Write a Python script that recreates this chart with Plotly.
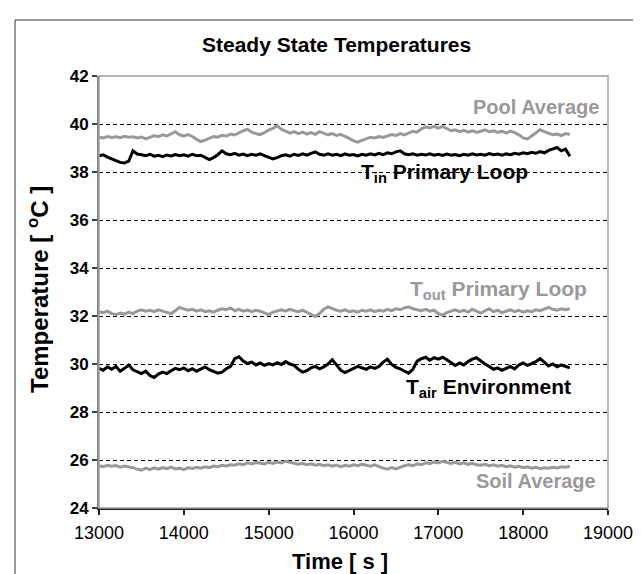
import plotly.graph_objects as go

# sample times [s]
time_s = list(range(13000, 18551, 50))

pool_avg = [
    39.45, 39.42, 39.48, 39.44, 39.47, 39.43, 39.49, 39.45, 39.47, 39.42,
    39.46, 39.38, 39.44, 39.52, 39.47, 39.55, 39.50, 39.60, 39.68, 39.55,
    39.50, 39.56, 39.48, 39.36, 39.27, 39.33, 39.42, 39.48, 39.45, 39.53,
    39.50, 39.58, 39.54, 39.64, 39.72, 39.78, 39.66, 39.60, 39.56, 39.64,
    39.75, 39.82, 39.93, 39.78, 39.70, 39.62, 39.68, 39.60, 39.66, 39.58,
    39.64, 39.57, 39.68, 39.60, 39.55, 39.60, 39.52, 39.57, 39.50, 39.40,
    39.30, 39.24, 39.32, 39.40, 39.45, 39.42, 39.48, 39.44, 39.50, 39.56,
    39.52, 39.60, 39.55, 39.64, 39.70, 39.66, 39.80, 39.88, 39.84, 39.90,
    39.83, 39.90, 39.80, 39.72, 39.76, 39.68, 39.74, 39.66, 39.72, 39.65,
    39.70, 39.76, 39.68, 39.72, 39.65, 39.70, 39.62, 39.70, 39.64, 39.55,
    39.42, 39.38, 39.50, 39.62, 39.76, 39.68, 39.60, 39.55, 39.58, 39.52,
    39.60, 39.56,
]

t_in = [
    38.68, 38.72, 38.62, 38.55, 38.48, 38.40, 38.38, 38.45, 38.88, 38.75,
    38.72, 38.68, 38.74, 38.66, 38.70, 38.64, 38.71, 38.67, 38.73, 38.68,
    38.72, 38.66, 38.74, 38.68, 38.70, 38.62, 38.52, 38.60, 38.72, 38.88,
    38.76, 38.72, 38.78, 38.70, 38.75, 38.68, 38.74, 38.70, 38.76, 38.68,
    38.62, 38.55, 38.60, 38.68, 38.72, 38.66, 38.74, 38.69, 38.76, 38.70,
    38.78, 38.84, 38.74, 38.70, 38.76, 38.70, 38.74, 38.68, 38.76, 38.70,
    38.73, 38.67, 38.74, 38.70, 38.76, 38.71, 38.78, 38.72, 38.80, 38.76,
    38.84, 38.88, 38.76, 38.72, 38.76, 38.70, 38.74, 38.71, 38.76, 38.70,
    38.74, 38.69, 38.75, 38.70, 38.73, 38.68, 38.74, 38.70, 38.76, 38.71,
    38.74, 38.70, 38.77, 38.72, 38.75, 38.70, 38.76, 38.72, 38.78, 38.74,
    38.80, 38.76, 38.82, 38.78, 38.85, 38.80, 38.90, 38.96, 39.02, 38.88,
    38.95, 38.66,
]

t_out = [
    32.18, 32.14, 32.20, 32.10, 32.06, 32.12, 32.08, 32.16, 32.10, 32.20,
    32.26, 32.20, 32.24, 32.18, 32.26, 32.20, 32.15, 32.10, 32.22, 32.36,
    32.30, 32.24, 32.28, 32.20, 32.26, 32.18, 32.22, 32.16, 32.24, 32.30,
    32.26, 32.34, 32.22, 32.28, 32.20, 32.25, 32.18, 32.24, 32.20, 32.14,
    32.06, 32.16, 32.22, 32.26, 32.20, 32.28, 32.22, 32.18, 32.24, 32.16,
    32.05, 31.98, 32.10, 32.28, 32.38, 32.30, 32.24, 32.20, 32.26, 32.18,
    32.22, 32.16, 32.24, 32.20, 32.26, 32.18, 32.24, 32.20, 32.28, 32.22,
    32.30, 32.26, 32.34, 32.38, 32.30, 32.26, 32.22, 32.28, 32.20, 32.24,
    32.10, 32.04, 32.14, 32.20, 32.26, 32.18, 32.24, 32.16, 32.28, 32.20,
    32.12, 32.22, 32.30, 32.18, 32.24, 32.14, 32.20, 32.26, 32.18, 32.24,
    32.16, 32.22, 32.18, 32.26, 32.22, 32.30, 32.36, 32.28, 32.24, 32.30,
    32.26, 32.30,
]

t_air = [
    29.82, 29.74, 29.88, 29.78, 29.90, 29.70, 29.82, 29.96, 29.76, 29.68,
    29.60, 29.70, 29.52, 29.44, 29.58, 29.66, 29.60, 29.72, 29.82, 29.76,
    29.84, 29.72, 29.80, 29.70, 29.78, 29.88, 29.76, 29.70, 29.62, 29.66,
    29.80, 29.90, 30.22, 30.30, 30.12, 30.02, 30.08, 29.96, 30.04, 29.94,
    30.02, 29.96, 30.06, 29.98, 30.10, 30.00, 29.94, 29.78, 29.66, 29.72,
    29.84, 29.90, 29.80, 29.88, 30.00, 30.18, 29.96, 29.74, 29.64, 29.72,
    29.82, 29.90, 29.84, 29.78, 29.88, 29.82, 29.90, 30.08, 30.20, 29.98,
    29.86, 29.80, 29.70, 29.62, 29.78, 30.12, 30.22, 30.28, 30.16, 30.26,
    30.20, 30.28, 30.18, 30.06, 29.94, 30.04, 29.96, 30.10, 30.20, 30.26,
    30.12, 30.00, 29.90, 29.78, 29.84, 29.74, 29.82, 29.90, 29.80, 29.96,
    30.04, 29.94, 30.02, 30.10, 30.22, 30.06, 29.92, 30.00, 29.88, 29.96,
    29.90, 29.84,
]

soil_avg = [
    25.76, 25.72, 25.78, 25.74, 25.77, 25.70, 25.75, 25.72, 25.68, 25.62,
    25.58, 25.66, 25.60, 25.67, 25.62, 25.68, 25.64, 25.70, 25.63, 25.66,
    25.60, 25.68, 25.65, 25.70, 25.66, 25.72, 25.68, 25.75, 25.72, 25.78,
    25.75, 25.80, 25.78, 25.84, 25.80, 25.88, 25.84, 25.90, 25.86, 25.84,
    25.90, 25.86, 25.92, 25.88, 25.95, 25.90, 25.86, 25.82, 25.86, 25.80,
    25.84, 25.78, 25.82, 25.76, 25.80, 25.74, 25.79, 25.72, 25.78, 25.74,
    25.80, 25.76, 25.82, 25.78, 25.74, 25.80, 25.72, 25.66, 25.62, 25.68,
    25.63, 25.70, 25.76, 25.80, 25.76, 25.84, 25.80, 25.88, 25.85, 25.92,
    25.88, 25.95, 25.90, 25.86, 25.90, 25.84, 25.88, 25.82, 25.86, 25.80,
    25.78, 25.82, 25.76, 25.80, 25.74, 25.78, 25.72, 25.76, 25.70, 25.74,
    25.68, 25.72, 25.66, 25.70, 25.64, 25.68, 25.66, 25.70, 25.67, 25.72,
    25.70, 25.74,
]

x_ticks = [13000, 14000, 15000, 16000, 17000, 18000, 19000]
y_ticks = [24, 26, 28, 30, 32, 34, 36, 38, 40, 42]

BLACK = "#000000"
GRAY = "#999999"
FONT = "Arial, Liberation Sans, sans-serif"

series = [
    (pool_avg, GRAY),
    (t_in, BLACK),
    (t_out, GRAY),
    (t_air, BLACK),
    (soil_avg, GRAY),
]

fig = go.Figure()
for vals, col in series:
    fig.add_trace(go.Scatter(x=time_s, y=vals, mode="lines",
                             line=dict(color=col, width=3),
                             showlegend=False, hoverinfo="skip"))

W, H = 641, 574
L, R, T, B = 91, 41, 68, 74

fig.update_layout(
    width=W, height=H,
    margin=dict(l=L, r=R, t=T, b=B, pad=0),
    paper_bgcolor="white", plot_bgcolor="white",
    font=dict(family=FONT, color="black"),
    showlegend=False,
)

fig.update_xaxes(
    range=[13000, 19000], tickvals=x_ticks,
    ticktext=[str(v) for v in x_ticks],
    showgrid=False, zeroline=False,
    showline=True, linecolor="#222222", linewidth=1.5,
    ticks="outside", ticklen=5, tickcolor="#222222", tickwidth=1.5,
    ticklabelstandoff=3,
    tickfont=dict(family=FONT, size=18, color="black"),
)
fig.update_yaxes(
    range=[24, 42], tickvals=y_ticks,
    showgrid=True, gridcolor="black", gridwidth=1, griddash="4px,3px",
    zeroline=False,
    showline=True, linecolor="#808080", linewidth=2,
    ticks="outside", ticklen=5, tickcolor="#404040", tickwidth=1.5,
    tickfont=dict(family=FONT, size=17, color="black", weight="bold"),
)

# plot-area border and outer chart border
fig.add_shape(type="rect", xref="paper", yref="paper", x0=0, x1=1, y0=0, y1=1,
              line=dict(color="#a0a0a0", width=1.5), layer="above")
fig.add_shape(type="rect", xref="paper", yref="paper",
              x0=(7 - L) / (W - L - R), x1=1.3,
              y0=-0.4, y1=(H - B - 12) / (H - T - B),
              line=dict(color="#333333", width=1), layer="below")

pw = W - L - R
ph = H - T - B

def px_x(p):
    return (p - L) / pw

def px_y(p):
    return (H - B - p) / ph

ann = [
    dict(text="<b>Steady State Temperatures</b>", x=px_x(328), y=px_y(37),
         xref="paper", yref="paper", showarrow=False, xanchor="center",
         yanchor="middle", font=dict(size=21, color="black", family=FONT)),
    dict(text="<b>Time [ s ]</b>", x=px_x(332), y=px_y(553),
         xref="paper", yref="paper", showarrow=False, xanchor="center",
         yanchor="middle", font=dict(size=22, color="black", family=FONT)),
    dict(text="<b>Temperature [ <sup>o</sup>C ]</b>", x=px_x(30), y=px_y(282),
         xref="paper", yref="paper", showarrow=False, xanchor="center",
         yanchor="middle", textangle=-90,
         font=dict(size=24, color="black", family=FONT)),
    dict(text="<b>Pool Average</b>", x=18920, y=40.7, xref="x", yref="y",
         showarrow=False, xanchor="right", yanchor="middle",
         font=dict(size=20, color=GRAY, family=FONT)),
    dict(text="<b>T<sub>in</sub> Primary Loop</b>", x=16060, y=37.95, xref="x", yref="y",
         showarrow=False, xanchor="left", yanchor="middle",
         font=dict(size=21, color=BLACK, family=FONT)),
    dict(text="<b>T<sub>out</sub> Primary Loop</b>", x=16640, y=33.1, xref="x", yref="y",
         showarrow=False, xanchor="left", yanchor="middle",
         font=dict(size=21, color=GRAY, family=FONT)),
    dict(text="<b>T<sub>air</sub> Environment</b>", x=16600, y=29.0, xref="x", yref="y",
         showarrow=False, xanchor="left", yanchor="middle",
         font=dict(size=21, color=BLACK, family=FONT)),
    dict(text="<b>Soil Average</b>", x=18880, y=25.11, xref="x", yref="y",
         showarrow=False, xanchor="right", yanchor="middle",
         font=dict(size=20, color=GRAY, family=FONT)),
]
fig.update_layout(annotations=ann)

fig.write_html("out.html")
